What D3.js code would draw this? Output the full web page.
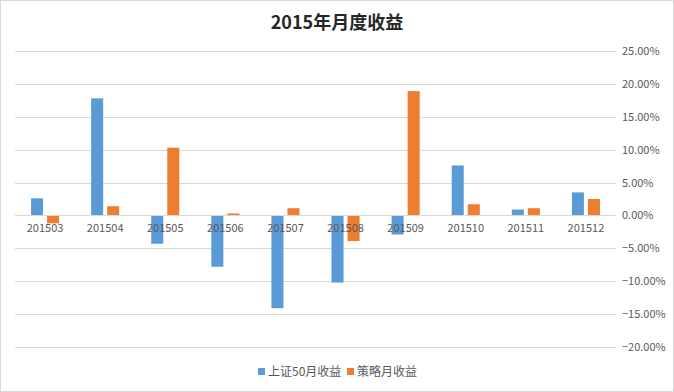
<!DOCTYPE html>
<html>
<head>
<meta charset="utf-8">
<script src="https://cdn.jsdelivr.net/npm/d3@7"></script>
<style>
    body { margin: 0; background: #fff; }
    svg text { font-family: "Noto Sans CJK SC", "Noto Sans", sans-serif; }
</style>
</head>
<body>
<div id="chart"></div>
<script>
// chart data (percent)
const months = ['201503', '201504', '201505', '201506', '201507', '201508', '201509', '201510', '201511', '201512'];
const seriesNames = ['上证50月收益', '策略月收益'];
const sz50Returns = [2.6, 17.8, -4.3, -7.8, -14.1, -10.2, -2.9, 7.6, 0.9, 3.5];
const strategyReturns = [-1.2, 1.4, 10.3, 0.3, 1.1, -3.9, 18.9, 1.7, 1.1, 2.5];
const yTicks = [25, 20, 15, 10, 5, 0, -5, -10, -15, -20];
const colors = ['#5B9BD5', '#ED7D31'];

const width = 674, height = 392;
const plot = { left: 15, right: 616, top: 51, bottom: 347 };

const svg = d3.select('#chart').append('svg')
    .attr('width', width)
    .attr('height', height);

// outer border
svg.append('rect')
    .attr('x', 0.5).attr('y', 0.5)
    .attr('width', width - 1).attr('height', height - 1)
    .attr('fill', '#fff')
    .attr('stroke', '#d9d9d9');

// title
svg.append('text')
    .attr('x', 337).attr('y', 29)
    .attr('text-anchor', 'middle')
    .attr('font-size', 18)
    .attr('font-weight', 'bold')
    .attr('fill', '#262626')
    .text('2015年月度收益');

const x0 = d3.scaleBand()
    .domain(months)
    .range([plot.left, plot.right])
    .paddingInner(0.533)
    .paddingOuter(0.267);

const x1 = d3.scaleBand()
    .domain([0, 1])
    .range([0, x0.bandwidth()])
    .paddingInner(0.25);

const y = d3.scaleLinear()
    .domain([-20, 25])
    .range([plot.bottom, plot.top]);

// gridlines
svg.append('g')
    .selectAll('line')
    .data(yTicks)
    .enter()
    .append('line')
    .attr('x1', plot.left)
    .attr('x2', plot.right)
    .attr('y1', d => Math.round(y(d)) + 0.5)
    .attr('y2', d => Math.round(y(d)) + 0.5)
    .attr('stroke', '#d9d9d9')
    .attr('stroke-width', 1);

// right axis labels
const yAxis = d3.axisRight(y)
    .tickValues(yTicks)
    .tickSize(0)
    .tickPadding(6)
    .tickFormat(d => d3.format('.2f')(d) + '%');

const axisG = svg.append('g')
    .attr('transform', `translate(${plot.right},0)`)
    .call(yAxis);
axisG.select('.domain').remove();
axisG.selectAll('text')
    .attr('font-size', 11)
    .attr('fill', '#595959')
    .style('font-family', '"Noto Sans CJK SC", sans-serif');

// bars
const rows = months.map((m, i) => ({ month: m, values: [sz50Returns[i], strategyReturns[i]] }));

const groups = svg.append('g')
    .selectAll('g')
    .data(rows)
    .enter()
    .append('g')
    .attr('transform', d => `translate(${x0(d.month)},0)`);

groups.selectAll('rect')
    .data(d => d.values.map((v, k) => ({ k: k, v: v })))
    .enter()
    .append('rect')
    .attr('x', d => x1(d.k))
    .attr('width', x1.bandwidth())
    .attr('y', d => y(Math.max(0, d.v)))
    .attr('height', d => Math.abs(y(d.v) - y(0)))
    .attr('fill', d => colors[d.k]);

// zero line drawn over bars
svg.append('line')
    .attr('x1', plot.left)
    .attr('x2', plot.right)
    .attr('y1', Math.round(y(0)) + 0.5)
    .attr('y2', Math.round(y(0)) + 0.5)
    .attr('stroke', '#d9d9d9');

// category labels just below the zero line
const xAxis = d3.axisBottom(x0).tickSize(0).tickPadding(9);
const xG = svg.append('g')
    .attr('transform', `translate(0,${y(0)})`)
    .call(xAxis);
xG.select('.domain').remove();
xG.selectAll('text')
    .attr('font-size', 11)
    .attr('fill', '#595959')
    .style('font-family', '"Noto Sans CJK SC", sans-serif');

// legend
const legend = svg.append('g').attr('transform', 'translate(258,372)');
const legendX = [0, 89];
seriesNames.forEach((name, k) => {
    const item = legend.append('g').attr('transform', `translate(${legendX[k]},0)`);
    item.append('rect')
        .attr('x', 0).attr('y', -4)
        .attr('width', 7).attr('height', 7)
        .attr('fill', colors[k]);
    item.append('text')
        .attr('x', 10).attr('y', 0)
        .attr('dy', '0.35em')
        .attr('font-size', 12)
        .attr('fill', '#595959')
        .text(name);
});
</script>
</body>
</html>
